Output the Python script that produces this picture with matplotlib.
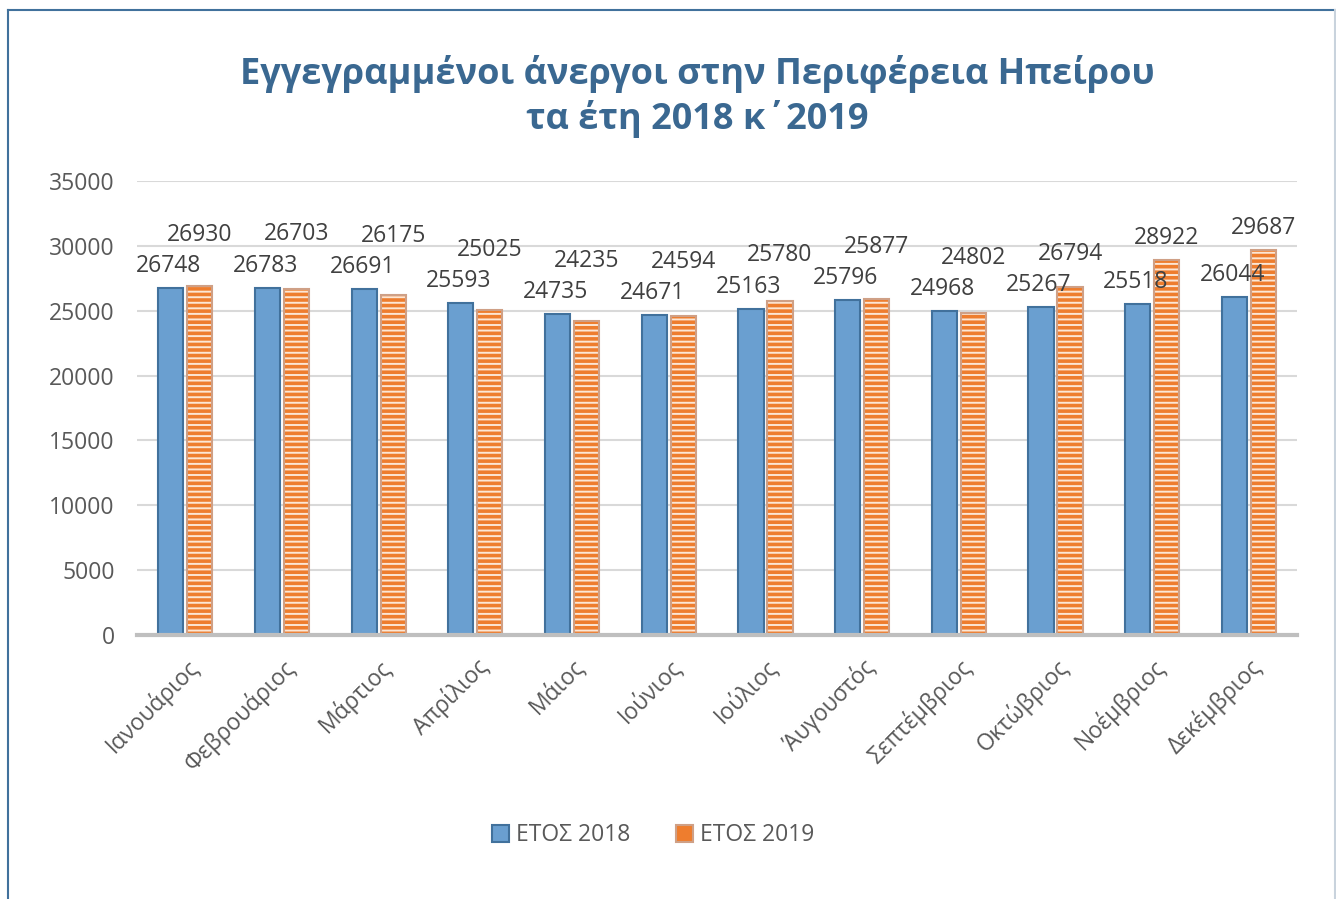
import numpy as np
import matplotlib.pyplot as plt
from matplotlib.patches import Patch
from matplotlib.lines import Line2D

# Δεδομένα
months = ["Ιανουάριος", "Φεβρουάριος", "Μάρτιος", "Απρίλιος", "Μάιος", "Ιούνιος",
          "Ιούλιος", "Άυγουστός", "Σεπτέμβριος", "Οκτώβριος", "Νοέμβριος", "Δεκέμβριος"]
etos_2018 = [26748, 26783, 26691, 25593, 24735, 24671, 25163, 25796, 24968, 25267, 25518, 26044]
etos_2019 = [26930, 26703, 26175, 25025, 24235, 24594, 25780, 25877, 24802, 26794, 28922, 29687]
yticks = [0, 5000, 10000, 15000, 20000, 25000, 30000, 35000]

plt.rcParams['font.family'] = ['Open Sans', 'DejaVu Sans']
plt.rcParams['hatch.linewidth'] = 1.4

fig = plt.figure(figsize=(13.36, 8.99), dpi=100)
ax = fig.add_axes([0.1025, 0.2937, 0.8685, 0.505])

x = np.arange(len(months))
w = 0.26
off = 0.15

ax.bar(x - off, etos_2018, w, color="#6A9FD0", edgecolor="#41719C", linewidth=1.5, zorder=3)
# bandes blanches horizontales sur les barres orange
ax.bar(x + off, etos_2019, w, color="#EE7D2E", edgecolor="#FCE6D4", hatch="---", linewidth=0, zorder=3)
ax.bar(x + off, etos_2019, w, fill=False, edgecolor="#CFA086", linewidth=1.5, zorder=4)

# étiquettes de valeurs
for i in range(len(months)):
    y18 = etos_2018[i] + 1700
    y19 = max(etos_2019[i] + 1700, y18 + 2400)
    ax.text(x[i] - off - 0.02, y18, str(etos_2018[i]), ha="center", va="center",
            fontsize=16.5, color="#404040", zorder=5)
    ax.text(x[i] + off, y19, str(etos_2019[i]), ha="center", va="center",
            fontsize=16.5, color="#404040", zorder=5)

ax.set_xlim(-0.5, len(months) - 0.5)
ax.set_ylim(0, 35000)
ax.set_yticks(yticks)
ax.set_yticklabels([str(t) for t in yticks], fontsize=16.5, color="#595959")
ax.set_xticks(x)
ax.set_xticklabels(months, rotation=45, ha="right", rotation_mode="anchor",
                   fontsize=16.5, color="#595959")
ax.tick_params(axis="both", length=0)
ax.tick_params(axis="y", pad=16)
ax.tick_params(axis="x", pad=14)

ax.grid(axis="y", color="#D9D9D9", linewidth=1.5, zorder=0)
for s in ["top", "right", "left"]:
    ax.spines[s].set_visible(False)
ax.spines["bottom"].set_color("#BFBFBF")
ax.spines["bottom"].set_linewidth(3)
ax.spines["bottom"].set_zorder(6)

fig.text(0.522, 0.893, "Εγγεγραμμένοι άνεργοι στην Περιφέρεια Ηπείρου\nτα έτη 2018 κ΄2019",
         ha="center", va="center", fontsize=26, fontweight="bold", color="#3A6891",
         linespacing=1.25)

handles = [Patch(facecolor="#6A9FD0", edgecolor="#41719C", linewidth=1.5),
           Patch(facecolor="#EE7D2E", edgecolor="#CFA086", linewidth=1.5)]
fig.legend(handles, ["ΕΤΟΣ 2018", "ΕΤΟΣ 2019"], loc="center", bbox_to_anchor=(0.4886, 0.071),
           ncol=2, frameon=False, fontsize=16.5, handlelength=0.75, handleheight=0.75,
           handletextpad=0.3, columnspacing=2.0, labelcolor="#595959")

# cadre du graphique
fig.add_artist(Line2D([8 / 1336, 8 / 1336], [0, 1 - 10 / 899], color="#41719C", linewidth=1.5))
fig.add_artist(Line2D([8 / 1336, 1], [1 - 10 / 899, 1 - 10 / 899], color="#41719C", linewidth=1.5))
fig.add_artist(Line2D([1335 / 1336, 1335 / 1336], [0, 1 - 10 / 899], color="#C9D3DD", linewidth=1.5))

fig.savefig("out.png", dpi=100)
